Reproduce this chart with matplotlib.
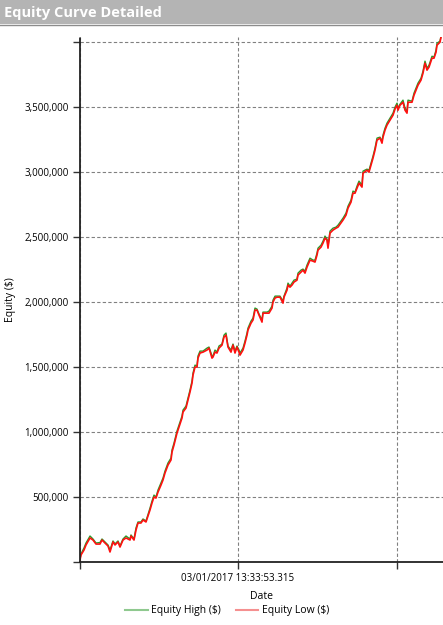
import numpy as np
import matplotlib
matplotlib.use('Agg')
import matplotlib.pyplot as plt
from matplotlib.lines import Line2D
from matplotlib.ticker import FuncFormatter

plt.rcParams['font.family'] = ['Open Sans', 'DejaVu Sans']

## dias desde o inicio da curva
days = [0, 5, 20, 30, 50, 65, 80, 100, 110, 125, 140, 150, 165, 175, 190, 200, 215, 230, 250, 255,
        270, 280, 290, 305, 315, 330, 350, 360, 370, 380, 390, 405, 415, 425, 440, 455,
        460, 470, 485, 495, 510, 515, 530, 540, 550, 560, 565, 575, 585, 590, 600, 615, 635, 645,
        660, 665, 675, 685, 695, 710, 720, 730, 740, 755, 765, 775, 785, 795,
        800, 815, 825, 835, 840, 855, 865, 875, 885, 895, 910, 915, 935, 945, 960, 965, 975, 985,
        1000, 1015, 1020, 1035, 1040, 1050, 1060, 1070, 1085, 1090, 1105, 1115, 1125, 1135, 1150,
        1165, 1175, 1185, 1190, 1205, 1215, 1225, 1235, 1240, 1250, 1265, 1280, 1290,
        1315, 1330, 1340, 1355, 1365, 1375, 1385, 1395, 1410, 1415, 1435, 1445, 1455, 1465, 1475,
        1485, 1500, 1510, 1515, 1525, 1535, 1550, 1565, 1575, 1585, 1590, 1600, 1615, 1625, 1635,
        1640, 1660, 1670, 1680, 1690, 1705, 1715, 1725, 1735, 1745, 1760, 1770, 1780, 1785, 1800, 1805]

## equity em milhares de dolares
equity_low_k = [15, 54, 92, 131, 185, 169, 138, 138, 169, 146, 123, 77, 154, 131, 154, 115, 169, 185, 169, 200,
                169, 246, 300, 300, 323, 308, 400, 454, 500, 492, 538, 592, 631, 685, 746, 785,
                846, 900, 992, 1038, 1108, 1154, 1185, 1246, 1308, 1377, 1438, 1500, 1500, 1569, 1608, 1615,
                1631, 1646, 1569, 1577, 1615, 1608, 1646, 1669, 1731, 1746, 1654, 1615, 1669, 1608, 1654, 1615,
                1592, 1631, 1685, 1746, 1785, 1838, 1862, 1938, 1938, 1900, 1846, 1915, 1915, 1915, 1954, 2000,
                2031, 2038, 2038, 1992, 2038, 2092, 2131, 2115, 2131, 2154, 2169, 2208, 2231, 2246, 2223, 2269,
                2323, 2315, 2308, 2362, 2400, 2423, 2454, 2492, 2477, 2415, 2531, 2554, 2569, 2577,
                2631, 2669, 2723, 2769, 2838, 2838, 2877, 2915, 2885, 2992, 3015, 3000, 3054, 3108, 3169,
                3246, 3262, 3223, 3269, 3323, 3362, 3400, 3438, 3485, 3515, 3477, 3515, 3538, 3477, 3454,
                3538, 3538, 3592, 3631, 3669, 3708, 3762, 3838, 3785, 3808, 3877, 3877, 3923, 3977, 4000, 4038]

equity_high_k = [23, 62, 108, 146, 200, 177, 146, 150, 177, 154, 131, 92, 162, 139, 162, 123, 177, 200, 177, 208,
                 177, 262, 308, 308, 331, 316, 415, 469, 515, 500, 554, 608, 646, 700, 762, 800,
                 862, 915, 1008, 1054, 1123, 1169, 1200, 1262, 1323, 1392, 1454, 1515, 1508, 1585, 1623, 1623,
                 1646, 1654, 1585, 1585, 1631, 1616, 1662, 1677, 1746, 1762, 1662, 1631, 1677, 1623, 1662, 1631,
                 1608, 1646, 1700, 1762, 1800, 1854, 1877, 1954, 1946, 1908, 1862, 1923, 1923, 1931, 1969, 2015,
                 2046, 2046, 2046, 2008, 2046, 2108, 2146, 2123, 2146, 2169, 2177, 2223, 2246, 2254, 2238, 2285,
                 2338, 2323, 2323, 2377, 2415, 2438, 2469, 2508, 2485, 2431, 2546, 2569, 2577, 2592,
                 2646, 2685, 2738, 2785, 2854, 2846, 2892, 2931, 2900, 3008, 3023, 3015, 3069, 3123, 3185,
                 3262, 3269, 3238, 3285, 3338, 3377, 3415, 3454, 3500, 3531, 3492, 3523, 3554, 3492, 3469,
                 3554, 3546, 3608, 3646, 3685, 3723, 3777, 3854, 3800, 3823, 3892, 3885, 3938, 3992, 4008, 4046]

x_ticks = [0, 790, 1585]
x_ticklabels = ['', '03/01/2017 13:33:53.315', '']
y_ticks = [0, 500000, 1000000, 1500000, 2000000, 2500000, 3000000, 3500000, 4000000]

days = np.array(days)
equity_low = np.array(equity_low_k) * 1000
equity_high = np.array(equity_high_k) * 1000

fig = plt.figure(figsize=(4.43, 6.25), dpi=100)

## barra do titulo
fig.patches.append(plt.Rectangle((0, 1 - 24 / 625), 1, 24 / 625, transform=fig.transFigure,
                                 facecolor='#b4b4b4', edgecolor='none'))
fig.lines.append(Line2D([0, 1], [1 - 24.5 / 625] * 2, transform=fig.transFigure, color='#8c8c8c', lw=1))
fig.text(4 / 443, 1 - 12.5 / 625, 'Equity Curve Detailed', color='white', fontsize=10.5,
         fontweight='bold', va='center', ha='left')

ax = fig.add_axes([80 / 443, 1 - 562 / 625, 363 / 443, 525 / 625])

ax.plot(days, equity_high, color='#2a9a2a', lw=1.0)
ax.plot(days, equity_low, color='#ff1010', lw=1.2)

ax.set_xlim(0, 1815)
ax.set_ylim(0, 4040000)
ax.set_xticks(x_ticks)
ax.set_xticklabels(x_ticklabels)
ax.set_yticks(y_ticks)
ax.yaxis.set_major_formatter(FuncFormatter(lambda v, p: '' if v in (0, 4000000) else '{:,.0f}'.format(v)))
ax.tick_params(axis='both', labelsize=7, length=5, width=1, color='#333333', pad=3)

ax.grid(True, ls=(0, (3, 2)), color='#808080', lw=0.8)
ax.set_axisbelow(True)

for s in ['top', 'right']:
    ax.spines[s].set_visible(False)
for s in ['left', 'bottom']:
    ax.spines[s].set_linestyle((0, (2, 1)))
    ax.spines[s].set_color('#222222')
    ax.spines[s].set_linewidth(1.3)

ax.set_xlabel('Date', fontsize=7.5, labelpad=5)
ax.set_ylabel('Equity ($)', fontsize=7.5)
ax.yaxis.set_label_coords(-64 / 363, 0.5)

handles = [Line2D([], [], color='#8fc98f', lw=1.5), Line2D([], [], color='#f59090', lw=1.5)]
fig.legend(handles, ['Equity High ($)', 'Equity Low ($)'], loc='center', ncol=2, frameon=False,
           bbox_to_anchor=(227 / 443, 1 - 611 / 625), fontsize=7.5, handlelength=2.2,
           handletextpad=0.3, columnspacing=1.4)

fig.savefig('out.png', dpi=100)
